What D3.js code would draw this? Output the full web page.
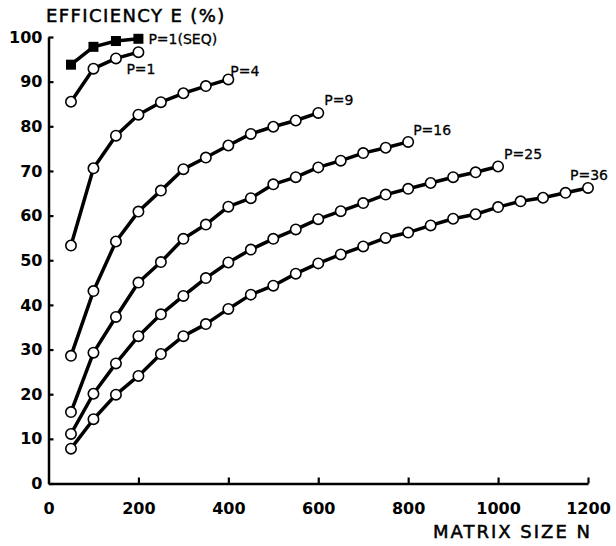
<!DOCTYPE html>
<html>
<head>
<meta charset="utf-8">
<script src="https://cdn.jsdelivr.net/npm/d3@7"></script>
<style>
    body { margin: 0; background: #fff; }
    svg { display: block; }
</style>
</head>
<body>
<div id="chart"></div>
<script>
// matrix sizes N used on the x axis (points every 50)
const matrixSizes = [50, 100, 150, 200, 250, 300, 350, 400, 450, 500, 550, 600,
    650, 700, 750, 800, 850, 900, 950, 1000, 1050, 1100, 1150, 1200];

// efficiency E (%) per processor count
const seqP1 = [93.8, 97.8, 99.1, 99.6];
const effP1 = [85.5, 92.9, 95.2, 96.6];
const effP4 = [53.3, 70.6, 77.9, 82.6, 85.4, 87.4, 89.0, 90.5];
const effP9 = [28.6, 43.1, 54.2, 60.9, 65.6, 70.4, 73.0, 75.7, 78.3, 79.9, 81.3, 83.0];
const effP16 = [16.0, 29.3, 37.3, 45.0, 49.6, 54.8, 58.0, 62.0, 63.9, 67.0, 68.6, 70.8,
    72.3, 74.0, 75.2, 76.5];
const effP25 = [11.1, 20.1, 26.9, 33.0, 37.9, 42.0, 46.0, 49.5, 52.4, 54.8, 56.9, 59.2,
    61.0, 62.8, 64.7, 66.0, 67.3, 68.6, 69.7, 71.0];
const effP36 = [7.8, 14.4, 19.9, 24.1, 29.0, 33.0, 35.7, 39.1, 42.3, 44.3, 47.0, 49.3,
    51.3, 53.1, 55.0, 56.2, 57.8, 59.3, 60.3, 61.9, 63.2, 64.0, 65.1, 66.2];

const seriesNames = ['P=1(SEQ)', 'P=1', 'P=4', 'P=9', 'P=16', 'P=25', 'P=36'];
const seriesValues = [seqP1, effP1, effP4, effP9, effP16, effP25, effP36];

const xTicks = [0, 200, 400, 600, 800, 1000, 1200];
const yTicks = [0, 10, 20, 30, 40, 50, 60, 70, 80, 90, 100];

// label placement next to the last point of each curve [dx, dy]
const labelOffsets = [[10, 5], [-12, 22], [2, -3], [6, -8], [5, -7], [6, -7], [-18, -8]];

const width = 616;
const height = 546;

const svg = d3.select('#chart')
    .append('svg')
    .attr('width', width)
    .attr('height', height);

const x = d3.scaleLinear().domain([0, 1200]).range([48.5, 588]);
const y = d3.scaleLinear().domain([0, 100]).range([483.5, 37]);

const font = 'DejaVu Sans, sans-serif';

// axes
const xAxis = svg.append('g')
    .attr('transform', `translate(0,${y(0)})`)
    .call(d3.axisBottom(x).tickValues(xTicks).tickFormat(d3.format('d'))
        .tickSize(-6).tickSizeOuter(0).tickPadding(19));

const yAxis = svg.append('g')
    .attr('transform', `translate(${x(0)},0)`)
    .call(d3.axisLeft(y).tickValues(yTicks).tickSize(-5).tickSizeOuter(0).tickPadding(6));

[xAxis, yAxis].forEach(a => {
    a.select('.domain').attr('stroke', '#000').attr('stroke-width', 2.5);
    a.selectAll('.tick line').attr('stroke', '#000').attr('stroke-width', 2.2);
    a.selectAll('.tick text')
        .attr('fill', '#000')
        .style('font-family', font)
        .style('font-size', '16px')
        .style('font-weight', 'bold');
});
xAxis.selectAll('.tick').filter(d => d === 0).select('line').remove();

// titles
svg.append('text')
    .attr('x', 46)
    .attr('y', 22)
    .attr('stroke', '#000')
    .attr('stroke-width', 0.5)
    .style('font-family', font)
    .style('font-size', '18px')
    .style('letter-spacing', '1.4px')
    .text('EFFICIENCY E (%)');

svg.append('text')
    .attr('x', 433)
    .attr('y', 538)
    .attr('stroke', '#000')
    .attr('stroke-width', 0.5)
    .style('font-family', font)
    .style('font-size', '18px')
    .style('letter-spacing', '2px')
    .text('MATRIX SIZE N');

const line = d3.line()
    .x((d, i) => x(matrixSizes[i]))
    .y(d => y(d));

// curves first so the markers sit on top
svg.append('g')
    .selectAll('path')
    .data(seriesValues)
    .enter().append('path')
    .attr('d', d => line(d))
    .attr('fill', 'none')
    .attr('stroke', '#000')
    .attr('stroke-width', 3.5)
    .attr('stroke-linejoin', 'round');

// sequential run: filled squares
svg.append('g')
    .selectAll('rect')
    .data(seqP1)
    .enter().append('rect')
    .attr('x', (d, i) => x(matrixSizes[i]) - 5)
    .attr('y', d => y(d) - 5)
    .attr('width', 10)
    .attr('height', 10)
    .attr('fill', '#000');

// parallel runs: open circles
seriesValues.slice(1).forEach(vals => {
    svg.append('g')
        .selectAll('circle')
        .data(vals)
        .enter().append('circle')
        .attr('cx', (d, i) => x(matrixSizes[i]))
        .attr('cy', d => y(d))
        .attr('r', 5.2)
        .attr('fill', '#fff')
        .attr('stroke', '#000')
        .attr('stroke-width', 1.6);
});

// curve labels
svg.append('g')
    .selectAll('text')
    .data(seriesNames)
    .enter().append('text')
    .attr('x', (d, i) => x(matrixSizes[seriesValues[i].length - 1]) + labelOffsets[i][0])
    .attr('y', (d, i) => y(seriesValues[i][seriesValues[i].length - 1]) + labelOffsets[i][1])
    .attr('stroke', '#000')
    .attr('stroke-width', 0.3)
    .style('font-family', font)
    .style('font-size', '14px')
    .text(d => d);
</script>
</body>
</html>
